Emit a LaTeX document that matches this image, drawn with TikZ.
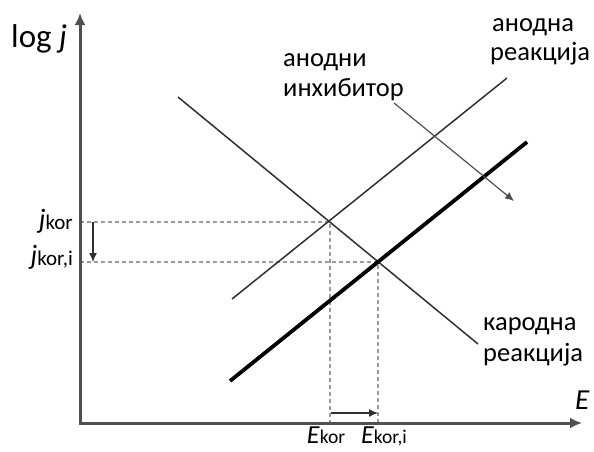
\documentclass[tikz,border=0pt]{standalone}
\usepackage{fontspec}
\setmainfont{Carlito}
\usetikzlibrary{arrows.meta}
\definecolor{axisgray}{HTML}{505050}
\definecolor{linegray}{HTML}{303030}
\definecolor{dashgray}{HTML}{9A9A9A}
\tikzset{
  axisline/.style={draw=axisgray, line width=3pt, -{Latex[length=12pt,width=11pt]}},
  thinline/.style={draw=linegray, line width=1.5pt},
  thickline/.style={draw=black, line width=3.8pt},
  guide/.style={draw=dashgray, line width=1.2pt, dash pattern=on 4pt off 3pt},
  smallarrow/.style={draw=linegray, line width=1.2pt, -{Latex[length=9pt,width=8pt]}},
  lbl/.style={font=\fontsize{26.5}{29}\selectfont, inner sep=0pt, align=left},
  axlbl/.style={font=\fontsize{33}{36}\selectfont, inner sep=0pt},
  elbl/.style={font=\fontsize{29}{32}\selectfont, inner sep=0pt},
  jlbl/.style={font=\fontsize{28}{31}\selectfont, inner sep=0pt},
  eklbl/.style={font=\fontsize{26}{29}\selectfont, inner sep=0pt},
}
\newcommand{\kor}[1]{\raisebox{-0.05em}{\fontsize{21}{23}\selectfont #1}}
\newcommand{\ekor}[1]{{\fontsize{19.5}{22}\selectfont #1}}
\begin{document}
\begin{tikzpicture}[x=1pt,y=-1pt]
\useasboundingbox (0,0) rectangle (594,451);
% coordinates
\coordinate (O) at (80,423);
\coordinate (ytop) at (80,13);
\coordinate (xend) at (582,423);
\coordinate (c1) at (178,97);
\coordinate (c2) at (478,344);
\coordinate (a1) at (232,299);
\coordinate (a2) at (507,78);
\coordinate (t1) at (230,381);
\coordinate (t2) at (527,142);
\coordinate (P) at (330,222);
\coordinate (Q) at (378,262);
\coordinate (inhA) at (394,103);
\coordinate (inhB) at (514,201);
% guides
\draw[guide] (80,222) -- (P) -- (330,423);
\draw[guide] (80,262) -- (Q) -- (378,423);
% lines
\draw[thinline] (c1) -- (c2);
\draw[thinline] (a1) -- (a2);
\draw[thickline] (t1) -- (t2);
\draw[smallarrow, draw=linegray!85] (inhA) -- (inhB);
% small arrows
\coordinate (dA) at (93,222);
\coordinate (dB) at (93,262);
\draw[smallarrow] (dA) -- (dB);
\coordinate (rA) at (331,413);
\coordinate (rB) at (378,413);
\draw[smallarrow] (rA) -- (rB);
% axes
\draw[axisline] (O) -- (ytop);
\draw[axisline] ([xshift=-1.5pt]O) -- (xend);
% labels
\node[axlbl, anchor=base west] (logj) at (11,47) {log \textit{j}};
\node[elbl, anchor=base west] (E) at (575,409) {\textit{E}};
\node[jlbl, anchor=base east] (jkor) at (73,228) {\textit{j}\kor{kor}};
\node[jlbl, anchor=base east] (jkori) at (73,264) {\textit{j}\kor{kor,i}};
\node[eklbl, anchor=base] (Ekor) at (326,443) {\textit{E}\ekor{kor}};
\node[eklbl, anchor=base] (Ekori) at (384,443) {\textit{E}\ekor{kor,i}};
\node[lbl, anchor=base west] (an1) at (492,31) {анодна};
\node[lbl, anchor=base west] (an2) at (490,60) {реакција};
\node[lbl, anchor=base west] (in1) at (283,66) {анодни};
\node[lbl, anchor=base west] (in2) at (283,96) {инхибитор};
\node[lbl, anchor=base west] (ka1) at (483,330) {кародна};
\node[lbl, anchor=base west] (ka2) at (483,361) {реакција};
\end{tikzpicture}
\end{document}
